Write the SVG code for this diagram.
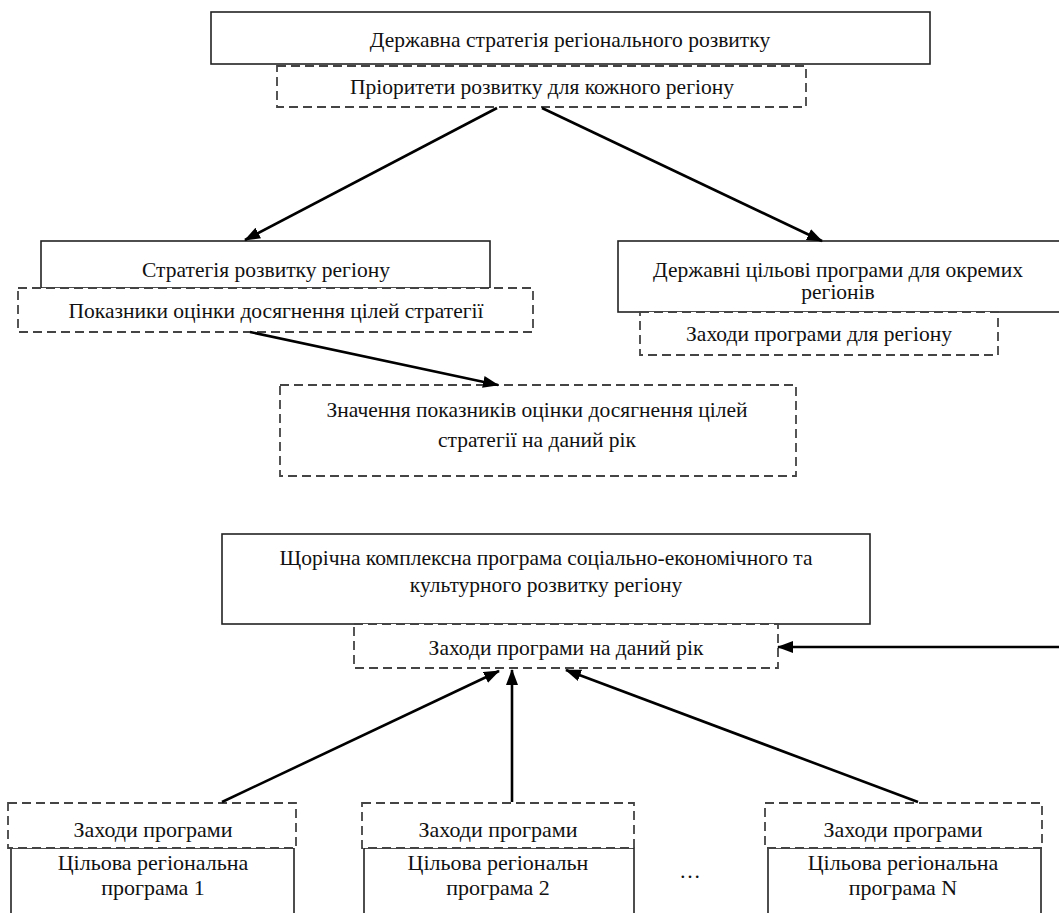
<svg xmlns="http://www.w3.org/2000/svg" width="1059" height="913" viewBox="0 0 1059 913">
<defs>
<marker id="ah" markerWidth="16" markerHeight="12" refX="15" refY="6" orient="auto" markerUnits="userSpaceOnUse">
<path d="M0,0 L16,6 L0,12 z" fill="#000"/>
</marker>
<style>
.solid{fill:#fff;stroke:#222;stroke-width:1.6}
.dash{fill:#fff;stroke:#444;stroke-width:1.8;stroke-dasharray:9,5}
.t{font-family:"Liberation Serif","Times New Roman",serif;font-size:21.5px;fill:#111;text-anchor:middle}
.b{font-size:22px}
.c{stroke:#000;stroke-width:2.6;fill:none;marker-end:url(#ah)}
</style>
</defs>
<rect width="1059" height="913" fill="#fff"/>
<g id="n-state">
<rect class="solid" x="211" y="12" width="719" height="52"/>
<text class="t" x="570" y="47">Державна стратегія регіонального розвитку</text>
</g>
<g id="n-priorities">
<rect class="dash" x="277" y="66" width="529" height="41"/>
<text class="t" x="542" y="94">Пріоритети розвитку для кожного регіону</text>
</g>
<g id="n-strategy">
<rect class="solid" x="41" y="241" width="449" height="47"/>
<text class="t" x="266" y="277">Стратегія розвитку регіону</text>
</g>
<g id="n-indicators">
<rect class="dash" x="18" y="288" width="515" height="44"/>
<text class="t" x="276" y="318">Показники оцінки досягнення цілей стратегії</text>
</g>
<g id="n-values">
<rect class="dash" x="280" y="385" width="516" height="91"/>
<text class="t" x="537" y="417">Значення показників оцінки досягнення цілей</text>
<text class="t" x="537" y="447">стратегії на даний рік</text>
</g>
<g id="n-stateprog">
<rect class="solid" x="618" y="241" width="445" height="71"/>
<text class="t" x="838" y="277">Державні цільові програми для окремих</text>
<text class="t" x="838" y="299">регіонів</text>
</g>
<g id="n-measures-region">
<rect class="dash" x="640" y="312" width="358" height="43"/>
<text class="t" x="819" y="341">Заходи програми для регіону</text>
</g>
<g id="n-annual">
<rect class="solid" x="222" y="534" width="648" height="90"/>
<text class="t" x="546" y="565">Щорічна комплексна програма соціально-економічного та</text>
<text class="t" x="546" y="592">культурного розвитку регіону</text>
</g>
<g id="n-annual-measures">
<rect class="dash" x="354" y="624" width="424" height="44"/>
<text class="t" x="566" y="655">Заходи програми на даний рік</text>
</g>
<g id="n-prog1">
<rect class="solid" x="11" y="848" width="283" height="70"/>
<rect class="dash" x="8" y="803" width="288" height="45"/>
<text class="t b" x="153" y="837">Заходи програми</text>
<text class="t b" x="153" y="870">Цільова регіональна</text>
<text class="t b" x="153" y="895">програма 1</text>
</g>
<g id="n-prog2">
<rect class="solid" x="364" y="848" width="270" height="70"/>
<rect class="dash" x="362" y="803" width="272" height="45"/>
<text class="t b" x="498" y="837">Заходи програми</text>
<text class="t b" x="498" y="870">Цільова регіональн</text>
<text class="t b" x="498" y="895">програма 2</text>
</g>
<g id="n-dots">
<text class="t" x="690" y="878">…</text>
</g>
<g id="n-progN">
<rect class="solid" x="768" y="848" width="273" height="70"/>
<rect class="dash" x="765" y="803" width="277" height="45"/>
<text class="t b" x="903" y="837">Заходи програми</text>
<text class="t b" x="903" y="870">Цільова регіональна</text>
<text class="t b" x="903" y="895">програма N</text>
</g>
<g id="connectors">
<line class="c" x1="497" y1="108" x2="245" y2="240"/>
<line class="c" x1="542" y1="108" x2="822" y2="241"/>
<line class="c" x1="250" y1="332" x2="498" y2="385"/>
<line class="c" x1="1059" y1="647" x2="778" y2="647"/>
<line class="c" x1="222" y1="802" x2="499" y2="671"/>
<line class="c" x1="512" y1="802" x2="512" y2="670"/>
<line class="c" x1="918" y1="802" x2="566" y2="670"/>
</g>
</svg>
